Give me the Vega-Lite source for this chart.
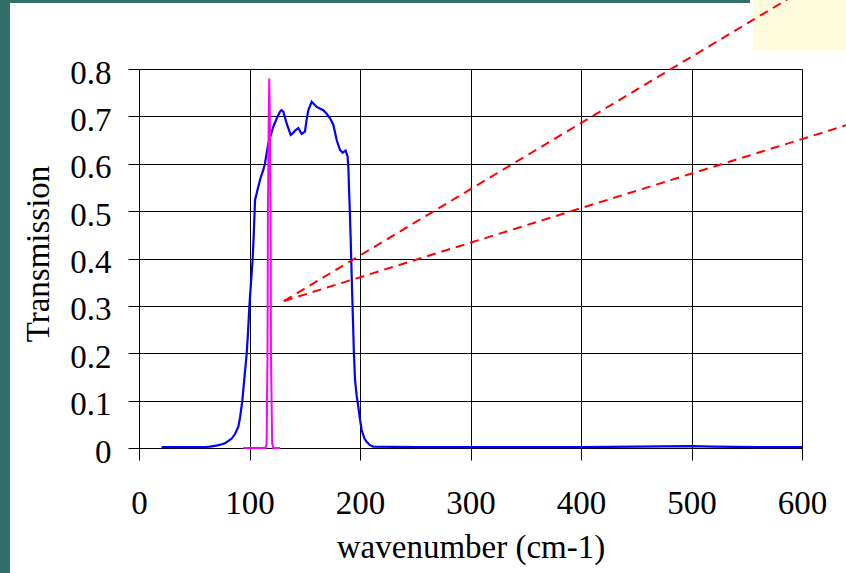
{
  "$schema": "https://vega.github.io/schema/vega-lite/v6.json",
  "width": 663,
  "height": 379,
  "autosize": {"type": "none"},
  "padding": {"left": 139, "top": 69, "right": 44, "bottom": 125},
  "background": "white",
  "config": {"view": {"stroke": null}},
  "datasets": {
    "deco": [
      {"part": "left", "x": -130.3, "x2": -116.7, "y": -0.2786, "y2": 0.956},
      {"part": "top", "x": -130.3, "x2": 552.9, "y": 0.9393, "y2": 0.956}
    ],
    "note": [
      {"x": 555.7, "x2": 643.4, "y": 0.838, "y2": 0.956}
    ],
    "filter": [
      {"x": 20.5, "y": 0.002}, {"x": 30, "y": 0.002}, {"x": 40, "y": 0.002}, {"x": 50, "y": 0.002},
      {"x": 60, "y": 0.002}, {"x": 64, "y": 0.003}, {"x": 70, "y": 0.005}, {"x": 75, "y": 0.008},
      {"x": 77.8, "y": 0.01}, {"x": 81, "y": 0.015}, {"x": 83.9, "y": 0.02}, {"x": 87, "y": 0.03},
      {"x": 89.9, "y": 0.045}, {"x": 91.5, "y": 0.065}, {"x": 93.5, "y": 0.1}, {"x": 95.5, "y": 0.15},
      {"x": 97.5, "y": 0.2}, {"x": 98.8, "y": 0.25}, {"x": 99.9, "y": 0.3}, {"x": 101.4, "y": 0.35},
      {"x": 102.9, "y": 0.4}, {"x": 104, "y": 0.46}, {"x": 105, "y": 0.523}, {"x": 108, "y": 0.552},
      {"x": 110, "y": 0.57}, {"x": 112.5, "y": 0.587}, {"x": 114, "y": 0.601}, {"x": 117, "y": 0.643},
      {"x": 121.5, "y": 0.678}, {"x": 124.5, "y": 0.695}, {"x": 127.6, "y": 0.71}, {"x": 129, "y": 0.713},
      {"x": 130.6, "y": 0.71}, {"x": 133.6, "y": 0.685}, {"x": 137.3, "y": 0.661}, {"x": 139.5, "y": 0.665},
      {"x": 141.2, "y": 0.67}, {"x": 144.2, "y": 0.675}, {"x": 147.2, "y": 0.663}, {"x": 150.2, "y": 0.668},
      {"x": 151.5, "y": 0.69}, {"x": 153.2, "y": 0.713}, {"x": 156.3, "y": 0.731}, {"x": 160.8, "y": 0.72},
      {"x": 166.8, "y": 0.713}, {"x": 170, "y": 0.705}, {"x": 172.9, "y": 0.696}, {"x": 175.9, "y": 0.682},
      {"x": 178.9, "y": 0.65}, {"x": 181.9, "y": 0.629}, {"x": 184.3, "y": 0.623}, {"x": 187, "y": 0.628},
      {"x": 188.8, "y": 0.615}, {"x": 189.5, "y": 0.59}, {"x": 190, "y": 0.552}, {"x": 190.8, "y": 0.5},
      {"x": 191.6, "y": 0.439}, {"x": 192.5, "y": 0.36}, {"x": 193.5, "y": 0.28}, {"x": 194.5, "y": 0.2},
      {"x": 195.5, "y": 0.144}, {"x": 197, "y": 0.11}, {"x": 198.5, "y": 0.087}, {"x": 200, "y": 0.06},
      {"x": 201.5, "y": 0.038}, {"x": 204, "y": 0.02}, {"x": 206, "y": 0.013}, {"x": 209, "y": 0.006},
      {"x": 212, "y": 0.003}, {"x": 250, "y": 0.002}, {"x": 300, "y": 0.002}, {"x": 350, "y": 0.002},
      {"x": 400, "y": 0.002}, {"x": 450, "y": 0.003}, {"x": 500, "y": 0.004}, {"x": 520, "y": 0.003},
      {"x": 560, "y": 0.002}, {"x": 600, "y": 0.002}
    ],
    "laser": [
      {"x": 94.4, "y": 0}, {"x": 114.5, "y": 0}, {"x": 115.5, "y": 0.01}, {"x": 116.3, "y": 0.2},
      {"x": 116.7, "y": 0.5}, {"x": 117.4, "y": 0.7}, {"x": 117.9, "y": 0.78}, {"x": 118.4, "y": 0.7},
      {"x": 119.1, "y": 0.5}, {"x": 119.4, "y": 0.2}, {"x": 120.5, "y": 0.01}, {"x": 121.5, "y": 0},
      {"x": 127.6, "y": 0}
    ],
    "pointer": [
      {"seg": "a", "x": 131.2, "y": 0.3103}, {"seg": "a", "x": 600.9, "y": 0.9668},
      {"seg": "b", "x": 131.2, "y": 0.3103}, {"seg": "b", "x": 661.5, "y": 0.697}
    ]
  },
  "encoding": {
    "x": {
      "field": "x", "type": "quantitative",
      "scale": {"domain": [0, 600], "nice": false, "zero": false},
      "axis": {
        "title": "wavenumber (cm-1)",
        "values": [0, 100, 200, 300, 400, 500, 600],
        "grid": true, "gridColor": "#000000", "gridWidth": 1, "gridOpacity": 1,
        "domainColor": "#000000", "domainWidth": 1,
        "tickColor": "#000000", "tickSize": 12, "tickWidth": 1,
        "labelFont": "Liberation Serif", "labelFontSize": 33, "labelColor": "#000000",
        "labelFlush": false, "labelOverlap": false, "labelPadding": 53, "labelBaseline": "alphabetic",
        "titleFont": "Liberation Serif", "titleFontSize": 33, "titleFontWeight": "normal", "titleColor": "#000000",
        "titleY": 109, "titleBaseline": "alphabetic"
      }
    },
    "y": {
      "field": "y", "type": "quantitative",
      "scale": {"domain": [0, 0.8], "nice": false, "zero": false},
      "axis": {
        "title": "Transmission",
        "values": [0, 0.1, 0.2, 0.3, 0.4, 0.5, 0.6, 0.7, 0.8],
        "format": ".1~f",
        "grid": true, "gridColor": "#000000", "gridWidth": 1, "gridOpacity": 1,
        "domainColor": "#000000", "domainWidth": 1,
        "tickColor": "#000000", "tickSize": 11, "tickWidth": 1,
        "labelFont": "Liberation Serif", "labelFontSize": 33, "labelColor": "#000000",
        "labelFlush": false, "labelOverlap": false, "labelPadding": 17, "labelBaseline": "alphabetic", "labelOffset": 14,
        "titleFont": "Liberation Serif", "titleFontSize": 33, "titleFontWeight": "normal", "titleColor": "#000000",
        "titleX": -91, "titleY": 184.5, "titleAngle": 270, "titleAlign": "center", "titleBaseline": "alphabetic"
      }
    }
  },
  "layer": [
    {
      "data": {"name": "deco"},
      "mark": {"type": "rect", "color": "#336F69"},
      "encoding": {"x2": {"field": "x2"}, "y2": {"field": "y2"}}
    },
    {
      "data": {"name": "note"},
      "mark": {"type": "rect", "color": "#FFFCDD"},
      "encoding": {"x2": {"field": "x2"}, "y2": {"field": "y2"}}
    },
    {
      "data": {"name": "filter"},
      "mark": {"type": "line", "color": "#0000FF", "strokeWidth": 2.2},
      "encoding": {}
    },
    {
      "data": {"name": "laser"},
      "mark": {"type": "line", "color": "#FF00FF", "strokeWidth": 2},
      "encoding": {}
    },
    {
      "data": {"name": "pointer"},
      "mark": {"type": "line", "color": "#FF0000", "strokeWidth": 2, "strokeDash": [9, 6]},
      "encoding": {"detail": {"field": "seg", "type": "nominal"}}
    }
  ]
}
